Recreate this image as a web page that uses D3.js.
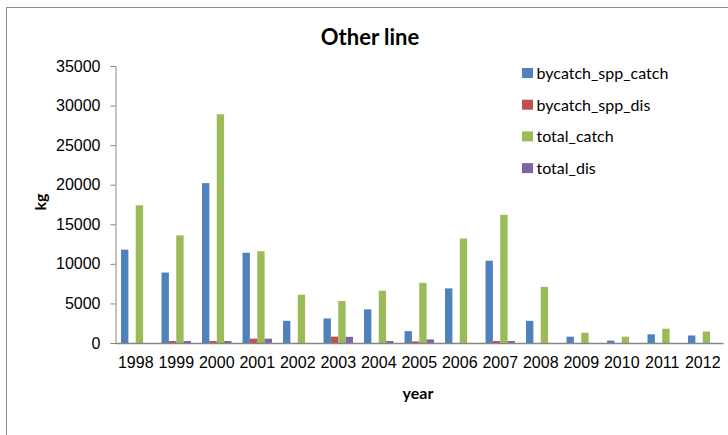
<!DOCTYPE html>
<html>
<head>
<meta charset="utf-8">
<script src="https://cdn.jsdelivr.net/npm/d3@7"></script>
<style>
  html, body { margin: 0; padding: 0; background: #fff; }
  svg { display: block; font-family: Lato, "Liberation Sans", sans-serif; }
</style>
</head>
<body>
<svg id="chart" width="728" height="435"></svg>
<script>
// Annual catch and discard weights (kg) for the "Other line" fleet
const years = ["1998","1999","2000","2001","2002","2003","2004","2005","2006","2007","2008","2009","2010","2011","2012"];
const bycatchSppCatch = [11800, 8900, 20200, 11400, 2800, 3100, 4250, 1500, 6900, 10400, 2800, 800, 300, 1100, 950];
const bycatchSppDis   = [0, 250, 250, 550, 0, 800, 0, 200, 0, 250, 0, 0, 0, 0, 0];
const totalCatch      = [17400, 13600, 28900, 11600, 6100, 5300, 6600, 7600, 13200, 16200, 7100, 1300, 800, 1800, 1450];
const totalDis        = [0, 250, 250, 550, 0, 780, 250, 450, 0, 250, 0, 0, 0, 0, 0];
const seriesNames  = ["bycatch_spp_catch", "bycatch_spp_dis", "total_catch", "total_dis"];
const seriesColors = ["#4F81BD", "#C0504D", "#9BBB59", "#8064A2"];
const yTicks = [0, 5000, 10000, 15000, 20000, 25000, 30000, 35000];

const seriesValues = [bycatchSppCatch, bycatchSppDis, totalCatch, totalDis];

const svg = d3.select("#chart");

// outer chart frame
svg.append("rect")
  .attr("x", 6.5).attr("y", 7.5)
  .attr("width", 760).attr("height", 460)
  .attr("fill", "#fff").attr("stroke", "#8c8c8c").attr("stroke-width", 1);

const plot = { left: 115.5, right: 723, top: 66, bottom: 343 };

const x = d3.scaleBand().domain(years).range([plot.left, plot.right]);
// Excel-style clustering: gap of 150% of a bar width between clusters
const barW = x.bandwidth() / (seriesNames.length + 1.5);
const xs = d3.scaleBand().domain(seriesNames)
  .range([0.75 * barW, 0.75 * barW + barW * seriesNames.length]);
const y = d3.scaleLinear().domain([0, 35000]).range([plot.bottom, plot.top]);

// bars
seriesNames.forEach((name, si) => {
  svg.append("g").selectAll("rect")
    .data(years.map((yr, i) => ({ yr, v: seriesValues[si][i] })).filter(d => d.v > 0))
    .join("rect")
      .attr("x", d => x(d.yr) + xs(name))
      .attr("y", d => y(d.v))
      .attr("width", xs.bandwidth())
      .attr("height", d => plot.bottom - y(d.v))
      .attr("fill", seriesColors[si]);
});

// y axis
const yAxis = svg.append("g")
  .attr("transform", `translate(${plot.left},0)`)
  .call(d3.axisLeft(y).tickValues(yTicks).tickSize(5).tickPadding(10).tickFormat(d3.format("d")));
yAxis.select(".domain").attr("stroke", "#868686");
yAxis.selectAll(".tick line").attr("stroke", "#868686");
yAxis.selectAll("text").attr("font-size", 16).attr("fill", "#000");

// x axis
const xAxis = svg.append("g")
  .attr("transform", `translate(0,${plot.bottom})`)
  .call(d3.axisBottom(x).tickSize(0).tickPadding(14));
xAxis.select(".domain").attr("stroke", "#868686").attr("stroke-width", 1.5);
xAxis.selectAll("text").attr("font-size", 16).attr("fill", "#000");

// title
svg.append("text")
  .attr("x", 370).attr("y", 45)
  .attr("text-anchor", "middle")
  .attr("font-size", 22).attr("font-weight", "bold")
  .text("Other line");

// axis titles
svg.append("text")
  .attr("x", 418).attr("y", 399)
  .attr("text-anchor", "middle")
  .attr("font-size", 16).attr("font-weight", "bold")
  .text("year");

svg.append("text")
  .attr("transform", "translate(46,202) rotate(-90)")
  .attr("text-anchor", "middle")
  .attr("font-size", 16).attr("font-weight", "bold")
  .text("kg");

// legend
const legend = svg.append("g");
seriesNames.forEach((name, i) => {
  const cy = 73.5 + i * 31.7;
  legend.append("rect")
    .attr("x", 522).attr("y", cy - 5.5)
    .attr("width", 11).attr("height", 10)
    .attr("fill", seriesColors[i]);
  legend.append("text")
    .attr("x", 536.5).attr("y", cy + 5.5)
    .attr("font-size", 16)
    .text(name);
});
</script>
</body>
</html>
